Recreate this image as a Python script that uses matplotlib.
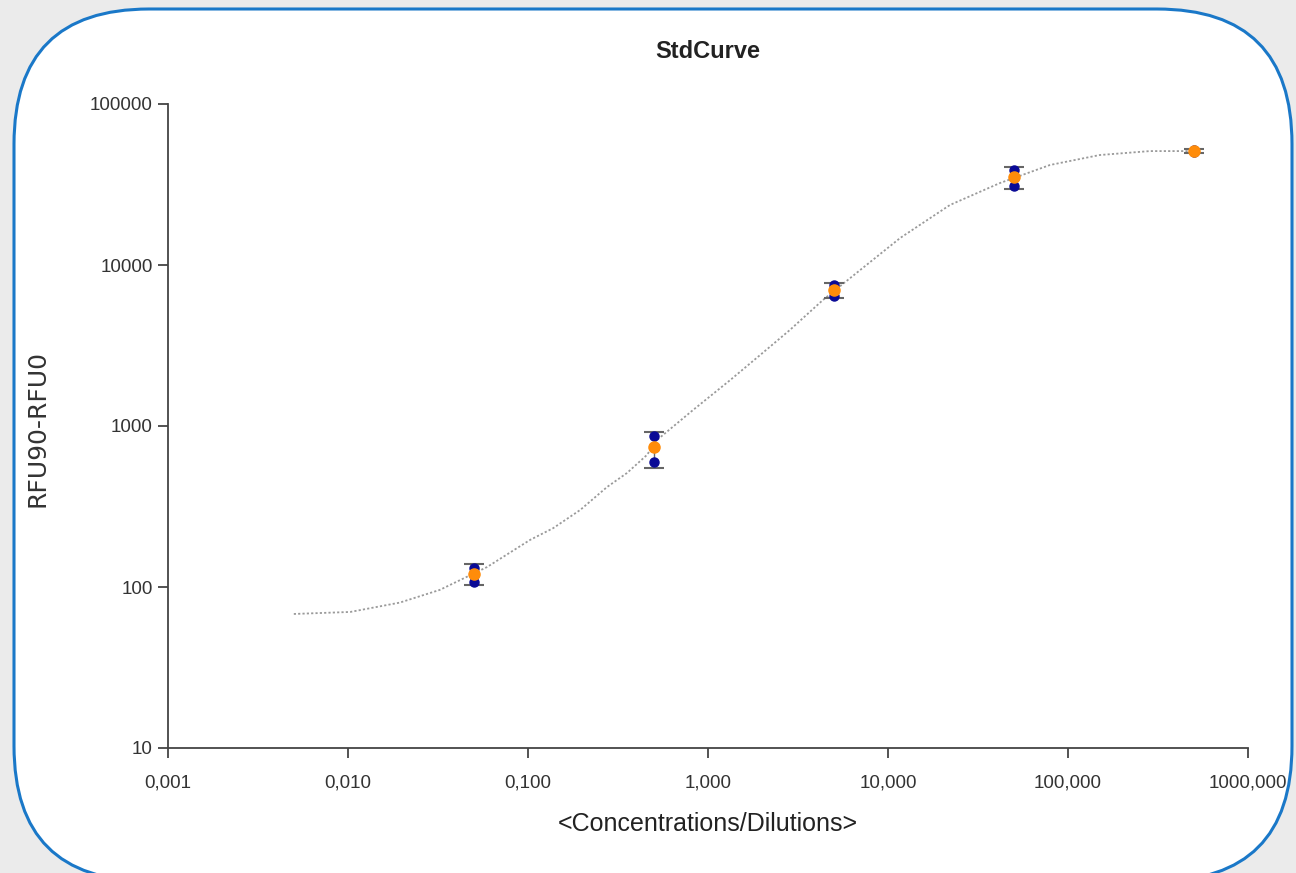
"""
StdCurve - standard curve, RFU vs concentration (log-log)
"""

import numpy as np
import matplotlib.pyplot as plt
from matplotlib.patches import FancyBboxPatch
from matplotlib.ticker import FixedLocator, FixedFormatter, NullLocator

# Standards (concentration / dilution)
conc = [0.05, 0.5, 5, 50, 500]
# Replicate readings (blue) and their mean (orange)
rep_a = [132, 866, 7520, 38900, 51500]
rep_b = [108, 597, 6410, 31000, 50500]
mean_rfu = [120, 741, 6995, 35200, 51000]
# Error bar ends
err_low = [103, 548, 6240, 29700, 49800]
err_high = [139, 918, 7730, 40600, 52200]

# Fitted curve
curve_x = [0.005, 0.0103, 0.0194, 0.0324, 0.0592, 0.1026, 0.138, 0.195,
           0.275, 0.355, 0.458, 0.521, 0.826, 1.33, 1.95, 2.85, 4.35,
           7.0, 11.7, 22.1, 41.9, 79.4, 150, 285, 541]
curve_y = [68, 70, 80, 96, 133, 196, 232, 301, 418, 511, 661, 819, 1257,
           1931, 2762, 3948, 6061, 9300, 14730, 23600, 32300, 41800, 48200,
           51000, 51000]

x_ticks = [0.001, 0.01, 0.1, 1, 10, 100, 1000]
x_labels = ['0,001', '0,010', '0,100', '1,000', '10,000', '100,000', '1000,000']
y_ticks = [10, 100, 1000, 10000, 100000]
y_labels = ['10', '100', '1000', '10000', '100000']


def main():
    plt.rcParams['font.family'] = ['Liberation Sans', 'DejaVu Sans']
    fig = plt.figure(figsize=(12.96, 8.73), dpi=100)
    fig.patch.set_facecolor('#ebebeb')

    # Rounded white panel with blue border
    bg = fig.add_axes([0, 0, 1, 1])
    bg.set_xlim(0, 1296)
    bg.set_ylim(873, 0)
    bg.axis('off')
    panel = FancyBboxPatch((14, 9), 1278, 872,
                           boxstyle='round,pad=0,rounding_size=135',
                           fc='white', ec='#1a78c8', lw=2.2)
    bg.add_patch(panel)

    ax = fig.add_axes([168 / 1296, 125 / 873, 1080 / 1296, 644 / 873])
    ax.set_facecolor('none')
    ax.set_xscale('log')
    ax.set_yscale('log')
    ax.set_xlim(0.001, 1000)
    ax.set_ylim(10, 100000)

    # Curve
    ax.plot(curve_x, curve_y, color='#9a9a9a', lw=1.3, ls=(0, (1.2, 1.2)),
            zorder=2)

    # Error bars
    mean = np.array(mean_rfu)
    yerr = [mean - np.array(err_low), np.array(err_high) - mean]
    ax.errorbar(conc, mean_rfu, yerr=yerr, fmt='none', ecolor='#666666',
                elinewidth=1.0, capsize=7, capthick=1.5, zorder=3)

    # Replicates and mean
    ax.plot(conc, rep_a, 'o', color='#0a0a96', ms=6.5, zorder=4)
    ax.plot(conc, rep_b, 'o', color='#0a0a96', ms=6.5, zorder=4)
    ax.plot(conc, mean_rfu, 'o', color='#ff8c0a', ms=8, zorder=5)

    # Axes styling
    for side in ['top', 'right']:
        ax.spines[side].set_visible(False)
    for side in ['left', 'bottom']:
        ax.spines[side].set_color('#444444')
        ax.spines[side].set_linewidth(1.3)

    ax.xaxis.set_major_locator(FixedLocator(x_ticks))
    ax.xaxis.set_major_formatter(FixedFormatter(x_labels))
    ax.yaxis.set_major_locator(FixedLocator(y_ticks))
    ax.yaxis.set_major_formatter(FixedFormatter(y_labels))
    ax.xaxis.set_minor_locator(NullLocator())
    ax.yaxis.set_minor_locator(NullLocator())
    ax.tick_params(axis='both', direction='out', length=7, width=1.3,
                   color='#444444', labelsize=13.5, labelcolor='#333333')
    ax.tick_params(axis='x', pad=12)
    ax.tick_params(axis='y', pad=4)

    ax.set_title('StdCurve', fontsize=17, fontweight='bold', color='#222222',
                 pad=33)
    ax.set_xlabel('<Concentrations/Dilutions>', fontsize=18, color='#222222',
                  labelpad=15)
    fig.text(38 / 1296, 1 - 428 / 873, 'RFU90-RFU0', rotation=90,
             fontsize=18, family=['Liberation Sans Narrow', 'DejaVu Sans'],
             color='#333333', ha='center', va='center')

    fig.savefig('out.png', dpi=100, facecolor=fig.get_facecolor())


if __name__ == "__main__":
    main()
